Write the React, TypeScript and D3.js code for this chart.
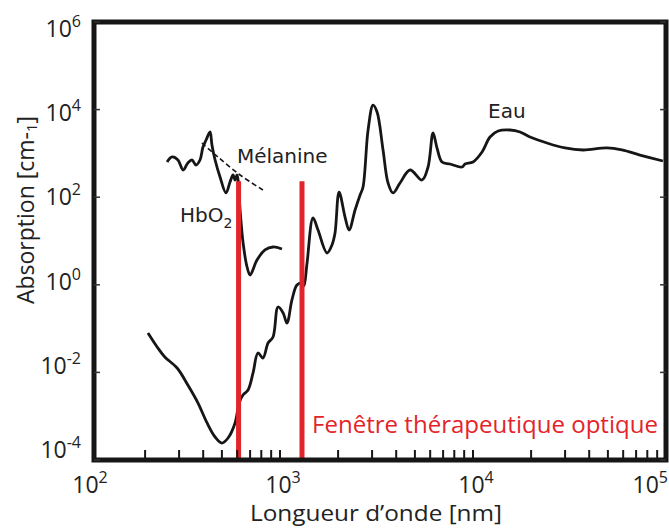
import React from "react";
import * as d3 from "d3";

// Water absorption (Eau)
const waterNm = [207, 231, 253, 293, 333, 376, 419, 461, 500, 538, 585, 614, 643, 683, 725, 769, 816, 867, 920, 977, 1038, 1087, 1153, 1224, 1299, 1330, 1381, 1483, 1574, 1753, 1859, 1928, 2023, 2173, 2280, 2449, 2600, 2693, 2860, 3035, 3184, 3419, 3630, 3850, 4186, 4720, 5445, 5850, 6210, 6510, 6910, 7600, 8770, 9100, 10000, 11140, 12250, 13490, 15560, 17530, 19740, 24170, 29980, 37150, 49460, 59120, 73300, 96400];
const waterAbs = [0.0794, 0.038, 0.0225, 0.0126, 0.00515, 0.002, 0.0007, 0.000335, 0.000244, 0.000318, 0.0007, 0.002, 0.00305, 0.00396, 0.0097, 0.0277, 0.0213, 0.0469, 0.0643, 0.311, 0.227, 0.134, 0.45, 0.99, 1.1, 0.94, 3.15, 33.5, 17.8, 5.32, 8.1, 15.2, 131, 35.3, 17.8, 51, 112, 171, 3420, 12700, 8810, 1197, 211, 125, 211, 418, 247, 489, 2920, 1330, 637, 573, 489, 573, 637, 1077, 2366, 3240, 3420, 3080, 2366, 1726, 1330, 1197, 1330, 1197, 918, 670];

// Oxyhemoglobin (HbO2)
const hbNm = [260, 276, 296, 315, 333, 350, 367, 385, 399, 414, 434, 444, 461, 489, 525, 551, 571, 585, 599, 621, 643, 675, 700, 760, 836, 920, 1024];
const hbAbs = [637, 828, 707, 418, 604, 707, 543, 707, 1400, 2022, 3080, 1556, 707, 289, 125, 222, 321, 247, 321, 51, 9.5, 2.55, 1.67, 3.68, 6.24, 7.3, 6.57];

// Melanin (Mélanine)
const melNm = [394, 477, 621, 816];
const melAbs = [1726, 828, 321, 146];

// Optical therapeutic window
const windowNm = [610, 1300];
const windowTop = 230;

const xTickExps = [2, 3, 4, 5];
const yTickExps = [-4, -2, 0, 2, 4, 6];

const W = 669;
const H = 529;

export default function App() {
  const x = d3.scaleLog().domain([1e2, 1e5]).range([87, 666]);
  const y = d3.scaleLog().domain([1e-4, 1e6]).range([460, 22]);
  const yLab = d3.scaleLog().domain([1e-4, 1e6]).range([450, 29]);

  const frameL = 94, frameR = 666, frameT = 22, frameB = 460;

  const line = d3
    .line<[number, number]>()
    .x((d) => x(d[0]))
    .y((d) => y(d[1]))
    .curve(d3.curveCatmullRom.alpha(0.5));

  const water = line(waterNm.map((v, i) => [v, waterAbs[i]] as [number, number])) || "";
  const hb = line(hbNm.map((v, i) => [v, hbAbs[i]] as [number, number])) || "";
  const mel = line(melNm.map((v, i) => [v, melAbs[i]] as [number, number])) || "";

  const minor: number[] = [];
  for (let e = 2; e < 5; e++) {
    for (let m = 1; m <= 9; m++) {
      const v = m * Math.pow(10, e);
      const px = x(v);
      if (px > frameL + 3 && px < frameR - 3) minor.push(v);
    }
  }

  const axisFont = "'Open Sans', 'Noto Sans', sans-serif";
  const labelFont = "'DejaVu Sans', Verdana, sans-serif";
  const red = "#e3242b";
  const ink = "#161616";

  return (
    <svg
      width={W}
      height={H}
      viewBox={`0 0 ${W} ${H}`}
      style={{ position: "absolute", left: 0, top: 0, background: "#fff" }}
    >
      <rect x={0} y={0} width={W} height={H} fill="#fff" />

      {/* curves */}
      <path d={water} fill="none" stroke={ink} strokeWidth={2.8} strokeLinejoin="round" />
      <path d={hb} fill="none" stroke={ink} strokeWidth={2.8} strokeLinejoin="round" />
      <path d={mel} fill="none" stroke={ink} strokeWidth={1.6} strokeDasharray="5,3" />

      {/* therapeutic window */}
      {windowNm.map((v) => (
        <line key={v} x1={x(v)} x2={x(v)} y1={y(windowTop)} y2={frameB} stroke={red} strokeWidth={5} />
      ))}

      {/* frame */}
      <rect
        x={frameL}
        y={frameT}
        width={frameR - frameL}
        height={frameB - frameT}
        fill="none"
        stroke={ink}
        strokeWidth={5}
      />

      {/* bottom ticks */}
      {minor.map((v) => (
        <line key={v} x1={x(v)} x2={x(v)} y1={frameB} y2={frameB - 10} stroke={ink} strokeWidth={2} />
      ))}

      {/* left/right ticks */}
      {yTickExps.map((e) => (
        <g key={e}>
          <line x1={frameL} x2={frameL + 6} y1={y(Math.pow(10, e))} y2={y(Math.pow(10, e))} stroke="#333" strokeWidth={1.5} />
          <line x1={frameR - 6} x2={frameR} y1={y(Math.pow(10, e))} y2={y(Math.pow(10, e))} stroke="#333" strokeWidth={1.5} />
        </g>
      ))}

      {/* y tick labels */}
      {yTickExps.map((e) => (
        <text
          key={e}
          x={81}
          y={yLab(Math.pow(10, e)) + 8}
          textAnchor="end"
          fontFamily={axisFont}
          fontSize={23}
          fill="#222"
        >
          10
          <tspan fontSize={16} dy={-10}>
            {e}
          </tspan>
        </text>
      ))}

      {/* x tick labels */}
      {xTickExps.map((e) => (
        <text
          key={e}
          x={e === 5 ? 668 : x(Math.pow(10, e)) + 3}
          y={493}
          textAnchor={e === 5 ? "end" : "middle"}
          fontFamily={axisFont}
          fontSize={23}
          fill="#222"
        >
          10
          <tspan fontSize={16} dy={-10}>
            {e}
          </tspan>
        </text>
      ))}

      {/* axis titles */}
      <text
        x={376}
        y={521}
        textAnchor="middle"
        fontFamily={axisFont}
        fontSize={22}
        fill="#222"
        textLength={252}
        lengthAdjust="spacingAndGlyphs"
      >
        Longueur d’onde [nm]
      </text>
      <text
        transform="translate(34,210) rotate(-90)"
        textAnchor="middle"
        fontFamily={axisFont}
        fontSize={23}
        fill="#222"
      >
        Absorption [cm-
        <tspan fontSize={15} dy={3}>1</tspan>
        <tspan dy={-3}>]</tspan>
      </text>

      {/* in-plot labels */}
      <text x={237} y={163} fontFamily={labelFont} fontSize={20} fill="#222">
        Mélanine
      </text>
      <text x={180} y={222} fontFamily={labelFont} fontSize={20} fill="#222">
        HbO
        <tspan fontSize={14} dy={6}>2</tspan>
      </text>
      <text x={488} y={118} fontFamily={labelFont} fontSize={20} fill="#222">
        Eau
      </text>

      <text
        x={312}
        y={433}
        fontFamily={axisFont}
        fontSize={23}
        fill={red}
        textLength={346}
        lengthAdjust="spacingAndGlyphs"
      >
        Fenêtre thérapeutique optique
      </text>
    </svg>
  );
}
